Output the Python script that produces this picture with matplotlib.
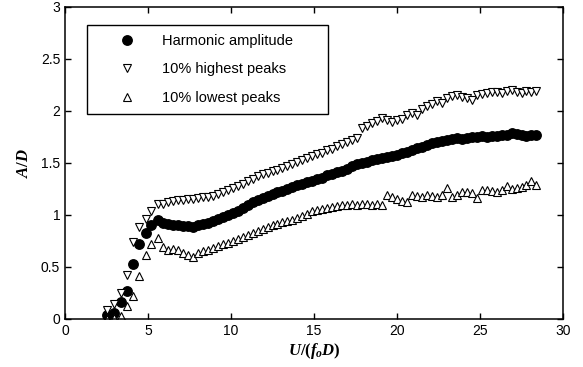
import numpy as np
import matplotlib
matplotlib.use('Agg')
import matplotlib.pyplot as plt
from matplotlib.ticker import FuncFormatter

plt.rcParams['font.family'] = ['Liberation Sans', 'DejaVu Sans']
plt.rcParams['mathtext.fontset'] = 'custom'
plt.rcParams['mathtext.it'] = 'Liberation Serif:bold:italic'
plt.rcParams['mathtext.rm'] = 'Liberation Serif:bold'

# reduced velocity U/(f_o D)
x_vals = [2.55, 2.95, 3.35, 3.71, 4.11, 4.46, 4.86, 5.18, 5.58,
          5.9, 6.2, 6.5, 6.8, 7.1, 7.4, 7.7, 8.0, 8.3, 8.6, 8.9, 9.2, 9.5, 9.8,
          10.1, 10.4, 10.7, 11.0, 11.3, 11.6, 11.9, 12.2, 12.5, 12.8, 13.1, 13.4,
          13.7, 14.0, 14.3, 14.6, 14.9, 15.2, 15.5, 15.8, 16.1, 16.4, 16.7, 17.0,
          17.3, 17.6, 17.9, 18.2, 18.5, 18.8, 19.1, 19.4, 19.7, 20.0, 20.3, 20.6,
          20.9, 21.2, 21.5, 21.8, 22.1, 22.4, 22.7, 23.0, 23.3, 23.6, 23.9, 24.2,
          24.5, 24.8, 25.1, 25.4, 25.7, 26.0, 26.3, 26.6, 26.9, 27.2, 27.5, 27.8,
          28.1, 28.4]

harmonic = [0.04, 0.06, 0.16, 0.27, 0.53, 0.72, 0.83, 0.90, 0.95,
            0.92, 0.91, 0.90, 0.90, 0.89, 0.89, 0.88, 0.90, 0.91, 0.92, 0.94, 0.96, 0.98, 1.00,
            1.02, 1.04, 1.07, 1.10, 1.12, 1.14, 1.16, 1.18, 1.20, 1.22, 1.23, 1.25,
            1.27, 1.29, 1.30, 1.32, 1.33, 1.35, 1.36, 1.38, 1.39, 1.41, 1.42, 1.44,
            1.47, 1.49, 1.50, 1.51, 1.53, 1.54, 1.55, 1.56, 1.57, 1.58, 1.60, 1.61,
            1.62, 1.64, 1.65, 1.67, 1.69, 1.70, 1.71, 1.72, 1.73, 1.74, 1.73, 1.74,
            1.75, 1.75, 1.76, 1.75, 1.76, 1.76, 1.77, 1.77, 1.79, 1.78, 1.77, 1.76,
            1.77, 1.77]

highest = [0.09, 0.14, 0.25, 0.42, 0.74, 0.88, 0.96, 1.04, 1.11,
           1.11, 1.12, 1.13, 1.14, 1.14, 1.15, 1.15, 1.16, 1.17, 1.17, 1.18, 1.20, 1.22, 1.24,
           1.26, 1.28, 1.30, 1.33, 1.35, 1.37, 1.39, 1.40, 1.42, 1.43, 1.45, 1.47,
           1.49, 1.51, 1.53, 1.55, 1.57, 1.59, 1.60, 1.62, 1.63, 1.66, 1.68, 1.70,
           1.72, 1.74, 1.84, 1.86, 1.88, 1.90, 1.93, 1.91, 1.89, 1.91, 1.92, 1.96,
           1.98, 1.96, 2.02, 2.05, 2.07, 2.10, 2.08, 2.12, 2.14, 2.15, 2.13, 2.12,
           2.11, 2.15, 2.16, 2.17, 2.18, 2.18, 2.17, 2.19, 2.20, 2.18, 2.17, 2.19,
           2.18, 2.19]

lowest = [0.00, 0.01, 0.03, 0.12, 0.22, 0.41, 0.61, 0.72, 0.78,
          0.69, 0.66, 0.67, 0.66, 0.63, 0.61, 0.60, 0.63, 0.65, 0.66, 0.68, 0.70, 0.72, 0.73,
          0.75, 0.77, 0.79, 0.81, 0.83, 0.85, 0.86, 0.88, 0.90, 0.91, 0.93, 0.94,
          0.95, 0.97, 0.99, 1.01, 1.04, 1.05, 1.06, 1.07, 1.08, 1.09, 1.10, 1.10,
          1.11, 1.10, 1.11, 1.11, 1.10, 1.11, 1.10, 1.19, 1.17, 1.15, 1.13, 1.12,
          1.19, 1.18, 1.17, 1.19, 1.18, 1.17, 1.19, 1.26, 1.17, 1.19, 1.22, 1.22,
          1.21, 1.16, 1.24, 1.24, 1.23, 1.22, 1.24, 1.28, 1.25, 1.26, 1.27, 1.29,
          1.33, 1.29]

labels = ['Harmonic amplitude', '10% highest peaks', '10% lowest peaks']

fig = plt.figure(figsize=(5.83, 3.67), dpi=100)
ax = fig.add_axes([0.1115, 0.131, 0.8542, 0.850])

ax.plot(x_vals, harmonic, 'o', color='black', markersize=6.8, label=labels[0])
ax.plot(x_vals, highest, 'v', markerfacecolor='white', markeredgecolor='black',
        markeredgewidth=0.8, markersize=5.5, label=labels[1])
ax.plot(x_vals, lowest, '^', markerfacecolor='white', markeredgecolor='black',
        markeredgewidth=0.8, markersize=5.5, label=labels[2])

ax.set_xlim(0, 30)
ax.set_ylim(0, 3)
ax.set_xticks(np.arange(0, 31, 5))
ax.set_yticks(np.arange(0, 3.01, 0.5))
ax.yaxis.set_major_formatter(FuncFormatter(lambda v, p: '%g' % v))
ax.tick_params(direction='in', top=True, right=True, length=4, width=1, labelsize=10)
for s in ax.spines.values():
    s.set_linewidth(1.1)

ax.set_xlabel('$U/(f_oD)$', fontsize=12, labelpad=2)
ax.set_ylabel('$A/D$', fontsize=12, labelpad=7)

leg = ax.legend(loc='upper left', bbox_to_anchor=(0.0442, 0.0, 0.484, 0.942),
                mode='expand', borderaxespad=0, fontsize=10.5, numpoints=1,
                handlelength=4.35, handletextpad=0.2, borderpad=0.6,
                labelspacing=1.0, fancybox=False, framealpha=1)
leg.get_frame().set_edgecolor('black')
leg.get_frame().set_linewidth(1.0)

fig.savefig('out.png', dpi=100)
